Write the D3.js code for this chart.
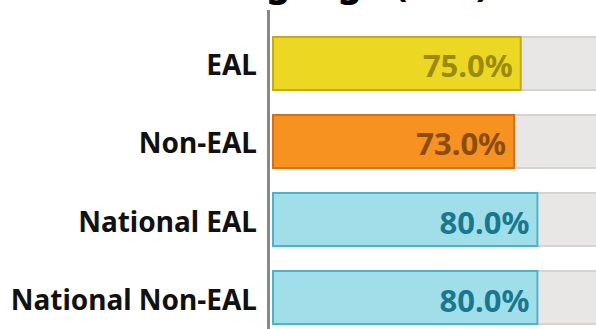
<!DOCTYPE html>
<html>
<head>
<meta charset="utf-8">
<script src="https://cdn.jsdelivr.net/npm/d3@7"></script>
<style>
  html, body { margin: 0; padding: 0; background: #fff; overflow: hidden; }
  svg { display: block; font-family: "Noto Sans", "Open Sans", sans-serif; }
</style>
</head>
<body>
<svg id="chart" width="596" height="329"></svg>
<script>
const titleText = "First Language (EAL)";
const categories = ["EAL", "Non-EAL", "National EAL", "National Non-EAL"];
const values = [75.0, 73.0, 80.0, 80.0];
const fills = ["#ecd822", "#f7911f", "#a0dfea", "#a0dfea"];
const strokes = ["#c6aa18", "#d4701a", "#4cb4c8", "#4cb4c8"];
const labelColors = ["#9a8a0f", "#8a4d0b", "#19788f", "#19788f"];

const svg = d3.select("#chart");
const x = d3.scaleLinear().domain([0, 100]).range([272, 605]);
const y = d3.scaleBand().domain(categories).range([36, 325]).paddingInner(0.295).paddingOuter(0);

// title (mostly clipped at the top, as in the reference)
svg.append("text")
  .attr("x", 296).attr("y", -4)
  .attr("text-anchor", "middle")
  .attr("font-size", 38).attr("font-weight", 700).attr("fill", "#000")
  .text(titleText);

const g = svg.append("g");
const rows = g.selectAll("g.row").data(categories).join("g").attr("class", "row");

// track
rows.append("rect")
  .attr("x", x(0)).attr("y", d => y(d))
  .attr("width", x(100) - x(0)).attr("height", y.bandwidth())
  .attr("fill", "#e8e7e5");
rows.append("rect")
  .attr("x", x(0)).attr("y", d => y(d))
  .attr("width", x(100) - x(0)).attr("height", 2)
  .attr("fill", "#d5d4ce");
rows.append("rect")
  .attr("x", x(0)).attr("y", d => y(d) + y.bandwidth() - 2)
  .attr("width", x(100) - x(0)).attr("height", 2)
  .attr("fill", "#d5d4ce");

// bars
rows.append("rect")
  .attr("x", x(0) + 1).attr("y", d => y(d) + 1)
  .attr("width", (d, i) => x(values[i]) - x(0) - 2)
  .attr("height", y.bandwidth() - 2)
  .attr("fill", (d, i) => fills[i])
  .attr("stroke", (d, i) => strokes[i])
  .attr("stroke-width", 2);

// value labels
rows.append("text")
  .attr("x", (d, i) => x(values[i]) - 9)
  .attr("y", d => y(d) + y.bandwidth() / 2 + 14)
  .attr("text-anchor", "end")
  .attr("font-size", 31).attr("font-weight", 700)
  .attr("fill", (d, i) => labelColors[i])
  .text((d, i) => values[i].toFixed(1) + "%");

// y axis
const axis = svg.append("g")
  .attr("transform", `translate(268,0)`)
  .call(d3.axisLeft(y).tickSize(0).tickPadding(11));
axis.select(".domain").remove();
axis.selectAll("text")
  .attr("font-size", 28).attr("font-weight", 700).attr("fill", "#111")
  .attr("font-family", "\"Noto Sans\", \"Open Sans\", sans-serif")
  .attr("dy", null)
  .attr("y", 12);
svg.append("line")
  .attr("x1", 268.5).attr("x2", 268.5)
  .attr("y1", 10).attr("y2", 329)
  .attr("stroke", "#888").attr("stroke-width", 3);
</script>
</body>
</html>
